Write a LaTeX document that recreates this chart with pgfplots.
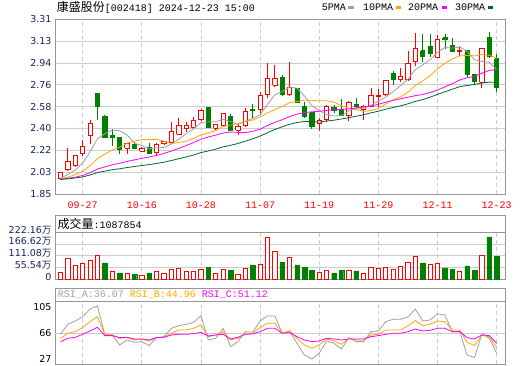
\documentclass[border=0pt]{standalone}
\usepackage{pgfplots}
\pgfplotsset{compat=1.18}
\usepackage{pgfplotstable}
\usepackage{fontspec}
\setmainfont{DejaVu Sans}
\newfontfamily\cjk{Noto Sans CJK SC}
\newfontfamily\mono{Liberation Mono}
\definecolor{kred}{RGB}{255,0,0}
\definecolor{kgreen}{RGB}{0,128,0}
\definecolor{ma5}{RGB}{160,160,160}
\definecolor{ma10}{RGB}{255,165,0}
\definecolor{ma20}{RGB}{255,0,255}
\definecolor{ma30}{RGB}{0,102,51}
\definecolor{gridc}{RGB}{204,204,204}
\definecolor{framec}{RGB}{150,150,150}
\definecolor{labc}{RGB}{25,35,90}

% up (red, hollow) candles
\pgfplotstableread{
i o h l c
0 1.982 2.037 1.970 2.032
1 2.054 2.235 2.043 2.121
2 2.085 2.177 2.079 2.169
3 2.188 2.300 2.171 2.249
4 2.341 2.469 2.272 2.442
9 2.233 2.280 2.188 2.274
11 2.208 2.244 2.199 2.227
13 2.199 2.277 2.177 2.263
14 2.269 2.294 2.260 2.286
15 2.283 2.450 2.277 2.375
16 2.352 2.486 2.339 2.422
17 2.400 2.450 2.372 2.425
18 2.405 2.492 2.394 2.469
19 2.472 2.561 2.464 2.545
21 2.400 2.428 2.389 2.428
22 2.422 2.528 2.408 2.520
24 2.383 2.444 2.339 2.419
25 2.425 2.567 2.414 2.542
27 2.556 2.706 2.528 2.670
28 2.679 2.943 2.656 2.818
29 2.757 2.929 2.743 2.818
31 2.679 2.957 2.667 2.737
35 2.436 2.489 2.380 2.467
36 2.472 2.595 2.450 2.584
39 2.506 2.631 2.461 2.617
41 2.561 2.595 2.472 2.581
42 2.584 2.734 2.573 2.673
43 2.667 2.729 2.575 2.673
44 2.679 2.796 2.673 2.796
46 2.810 2.902 2.790 2.829
47 2.804 3.049 2.796 2.943
48 2.957 3.197 2.918 3.069
51 2.991 3.183 2.991 3.144
54 3.041 3.083 3.007 3.046
57 2.784 3.069 2.737 3.069
}\upc

% down (green, filled) candles
\pgfplotstableread{
i o h l c
5 2.687 2.687 2.472 2.581
6 2.500 2.514 2.325 2.325
7 2.339 2.394 2.247 2.322
8 2.319 2.325 2.188 2.221
10 2.266 2.288 2.230 2.230
12 2.241 2.280 2.188 2.188
20 2.573 2.578 2.405 2.405
23 2.495 2.520 2.375 2.383
26 2.559 2.600 2.478 2.545
30 2.823 2.846 2.667 2.679
32 2.729 2.734 2.617 2.617
33 2.584 2.623 2.483 2.495
34 2.531 2.539 2.394 2.419
37 2.575 2.595 2.528 2.547
38 2.561 2.645 2.500 2.503
40 2.600 2.650 2.570 2.584
45 2.854 2.882 2.757 2.807
49 3.046 3.186 2.952 2.996
50 3.080 3.191 2.996 3.024
52 3.155 3.189 3.063 3.141
53 3.094 3.152 3.035 3.038
55 3.046 3.046 2.818 2.849
56 2.846 2.854 2.757 2.790
58 3.155 3.208 2.988 3.002
59 2.980 3.024 2.706 2.740
}\dnc

% moving averages
\pgfplotstableread{
i m5 m10 m20 m30
0 1.982 1.976 1.973 1.972
1 2.013 1.991 1.981 1.977
2 2.052 2.011 1.991 1.984
3 2.108 2.039 2.005 1.993
4 2.203 2.086 2.028 2.009
5 2.312 2.147 2.059 2.029
6 2.353 2.183 2.076 2.041
7 2.384 2.218 2.094 2.053
8 2.378 2.243 2.107 2.061
9 2.345 2.274 2.122 2.071
10 2.274 2.293 2.135 2.080
11 2.255 2.304 2.148 2.088
12 2.228 2.306 2.159 2.096
13 2.236 2.307 2.173 2.105
14 2.239 2.292 2.189 2.116
15 2.268 2.271 2.209 2.130
16 2.307 2.281 2.232 2.145
17 2.354 2.291 2.255 2.160
18 2.395 2.316 2.280 2.176
19 2.447 2.343 2.308 2.196
20 2.453 2.361 2.327 2.210
21 2.454 2.381 2.342 2.225
22 2.473 2.414 2.360 2.244
23 2.456 2.426 2.367 2.257
24 2.431 2.439 2.365 2.272
25 2.458 2.456 2.363 2.291
26 2.482 2.468 2.374 2.311
27 2.512 2.493 2.392 2.334
28 2.599 2.528 2.422 2.362
29 2.679 2.555 2.449 2.390
30 2.706 2.582 2.471 2.412
31 2.744 2.613 2.497 2.433
32 2.734 2.623 2.518 2.448
33 2.669 2.634 2.530 2.456
34 2.589 2.634 2.537 2.455
35 2.547 2.627 2.541 2.451
36 2.516 2.630 2.549 2.460
37 2.502 2.618 2.555 2.467
38 2.504 2.587 2.557 2.477
39 2.544 2.567 2.561 2.488
40 2.567 2.557 2.570 2.500
41 2.566 2.541 2.577 2.512
42 2.592 2.547 2.585 2.528
43 2.626 2.565 2.599 2.542
44 2.661 2.603 2.618 2.559
45 2.706 2.637 2.632 2.573
46 2.756 2.661 2.646 2.587
47 2.810 2.701 2.659 2.604
48 2.889 2.757 2.672 2.624
49 2.929 2.795 2.681 2.639
50 2.972 2.839 2.698 2.659
51 3.035 2.895 2.718 2.683
52 3.075 2.942 2.745 2.704
53 3.069 2.979 2.772 2.726
54 3.078 3.004 2.803 2.747
55 3.043 3.008 2.822 2.757
56 2.972 3.004 2.832 2.765
57 2.958 3.016 2.859 2.778
58 2.951 3.010 2.883 2.785
59 2.890 2.984 2.890 2.782
}\ma

% volume (10k shares), up days
\pgfplotstableread{
i v
0 33.3
1 98.4
2 65.1
3 74.6
4 88.9
5 112.7
7 36.5
9 28.6
11 17.5
13 36.5
14 28.6
15 46.0
16 50.8
17 34.9
18 36.5
19 46.0
21 28.6
22 46.0
24 23.8
25 52.4
27 71.4
28 198.4
29 131.7
31 103.2
35 31.7
36 41.3
39 41.3
41 27.0
42 55.5
43 50.8
44 55.5
45 46.0
46 60.3
47 79.4
48 107.9
50 69.8
51 74.6
54 38.1
57 114.2
}\volup

% volume, down days
\pgfplotstableread{
i v
6 76.2
8 28.6
10 23.8
12 28.6
20 57.1
23 42.8
26 66.7
30 80.9
32 66.7
33 57.1
34 42.8
37 28.6
38 42.8
40 38.1
49 76.2
52 52.4
53 44.4
55 61.9
56 39.7
58 200.0
59 108.79
}\voldn

% RSI
\pgfplotstableread{
i a b c
0 64.5 58.5 53.5
1 79.5 66 58.5
2 84.5 68.5 60
3 91 74.5 64.5
4 102.5 83.5 69.5
5 107 91 75
6 63.5 64.5 62.5
7 63.5 63.5 62.5
8 48.5 58.5 59.5
9 56 59.5 60
10 52.5 56 57.5
11 53.5 57 57.5
12 47.5 54.5 56
13 59.5 59.5 59.5
14 61 60 60
15 73.5 66 63.5
16 77.5 71 64.5
17 79.5 71 64.5
18 82.5 73.5 65.5
19 92.5 78.5 67.5
20 56 61 62
21 58.5 63.5 63.5
22 73.5 68.5 64.5
23 46 56 57.5
24 53.5 58.5 60
25 68.5 66 64.5
26 67.5 66 65
27 84.5 74.5 68.5
28 92 81 73.5
29 92 81 73.5
30 66 66 66
31 68.5 70 67
32 51 58.5 61
33 33.5 48.5 56
34 27.5 43.5 53.5
35 36 48.5 54.5
36 54.5 57.5 58.5
37 51 54.5 57.5
38 42.5 49.5 56
39 59.5 58.5 57.5
40 53.5 56 57.5
41 53.5 56 57.5
42 68.5 63.5 61
43 69.5 64.5 62.5
44 83.5 71 64.5
45 87 71 66
46 87 71 66
47 90.5 77 68.5
48 102.5 85 72.5
49 84.5 77.5 69.5
50 86 79.5 70.5
51 95 84.5 73.5
52 93.5 83.5 73.5
53 68.5 71 68.5
54 68.5 71 68.5
55 33.5 52.5 59.5
56 29.5 47.5 57.5
57 65 63.5 63.5
58 58.5 61 62.5
59 36.07 44.96 51.12
}\rsi

\newcommand\candles[3]{%
  \pgfplotstablegetrowsof{#1}%
  \pgfmathtruncatemacro\nrows{\pgfplotsretval-1}%
  \pgfplotsforeachungrouped \r in {0,...,\nrows}{%
    \pgfplotstablegetelem{\r}{i}\of#1\let\ci\pgfplotsretval
    \pgfplotstablegetelem{\r}{o}\of#1\let\co\pgfplotsretval
    \pgfplotstablegetelem{\r}{h}\of#1\let\ch\pgfplotsretval
    \pgfplotstablegetelem{\r}{l}\of#1\let\cl\pgfplotsretval
    \pgfplotstablegetelem{\r}{c}\of#1\let\cc\pgfplotsretval
    \pgfmathsetmacro\xa{\ci-0.29}%
    \pgfmathsetmacro\xb{\ci+0.29}%
    \edef\tmp{\noexpand\addplot[#2, line width=0.8pt, forget plot] coordinates {(\ci,\cl) (\ci,\ch)};%
      \noexpand\addplot[draw=#2, fill=#3, line width=0.8pt, forget plot] coordinates {(\xa,\co) (\xb,\co) (\xb,\cc) (\xa,\cc) (\xa,\co)};}%
    \tmp
  }%
}

\pgfplotsset{
  panel/.style={
    scale only axis, width=450.3pt,
    xmin=-0.744, xmax=60.17,
    axis line style={framec, line width=0.8pt},
    major tick length=0pt, tick style={draw=none},
    xtick={3,11,19,27,35,43,51,59},
    xmajorgrids,
    x grid style={gridc, line width=0.7pt, dash pattern=on 4pt off 3pt},
    y grid style={gridc, line width=0.8pt},
    ticklabel style={font=\fontsize{9.5pt}{9.5pt}\selectfont},
  }
}

\begin{document}
\begin{tikzpicture}
\path[use as bounding box] (0,0) rectangle (520pt,-365pt);

% ---------- price panel ----------
\begin{axis}[panel,
  at={(55pt,-19.3pt)}, anchor=north west, height=174.7pt,
  ymin=1.85, ymax=3.31,
  ytick={1.85,2.0325,2.215,2.3975,2.58,2.7625,2.945,3.1275,3.31},
  yticklabels={1.85,2.03,2.22,2.40,2.58,2.76,2.94,3.13,3.31},
  ymajorgrids,
  yticklabel style={text=labc},
  xticklabels={09-27,10-16,10-28,11-07,11-19,11-29,12-11,12-23},
  xticklabel style={text=kred, font=\mono\fontsize{10pt}{10pt}\selectfont, yshift=-4pt},
]
\candles{\upc}{kred}{white}
\candles{\dnc}{kgreen}{kgreen}
\addplot[ma5, line width=0.8pt, mark=none] table[x=i,y=m5]{\ma};
\addplot[ma10, line width=0.8pt, mark=none] table[x=i,y=m10]{\ma};
\addplot[ma20, line width=0.8pt, mark=none] table[x=i,y=m20]{\ma};
\addplot[ma30, line width=0.8pt, mark=none] table[x=i,y=m30]{\ma};
\end{axis}

% ---------- volume panel ----------
\begin{axis}[panel,
  at={(55pt,-232.3pt)}, anchor=north west, height=46.7pt,
  ymin=0, ymax=222.16,
  ytick={0,55.54,111.08,166.62,222.16},
  yticklabels={0,55.54{\cjk 万},111.08{\cjk 万},166.62{\cjk 万},222.16{\cjk 万}},
  yticklabel style={text=labc, yshift=2.3pt},
  ymajorgrids,
  xticklabels={},
]
\addplot[ybar, bar width=4.2pt, bar shift=0pt, draw=kred, fill=white, line width=0.8pt] table[x=i,y=v]{\volup};
\addplot[ybar, bar width=4.6pt, bar shift=0pt, draw=kgreen, fill=kgreen, line width=0.4pt] table[x=i,y=v]{\voldn};
\end{axis}

% ---------- RSI panel ----------
\begin{axis}[panel,
  at={(55pt,-301pt)}, anchor=north west, height=63pt,
  ymin=19.95, ymax=114.45,
  ytick={27,66,105},
  yticklabels={27,66,105},
  yticklabel style={text=black},
  extra y ticks={66}, extra y tick labels={},
  extra y tick style={ymajorgrids=true},
  xticklabels={},
]
\addplot[ma5, line width=0.8pt, mark=none] table[x=i,y=a]{\rsi};
\addplot[ma10, line width=0.8pt, mark=none] table[x=i,y=b]{\rsi};
\addplot[ma20, line width=0.8pt, mark=none] table[x=i,y=c]{\rsi};
\end{axis}

% ---------- header texts ----------
\node[anchor=west, inner sep=0pt] at (56.7pt,-7.3pt)
  {{\cjk\fontsize{12pt}{12pt}\selectfont 康盛股份}{\mono\fontsize{10pt}{10pt}\selectfont[002418] 2024-12-23 15:00}};
\begin{scope}[every node/.style={anchor=west, inner sep=0pt, font=\mono\fontsize{10pt}{10pt}\selectfont}]
\node at (321.7pt,-7pt) {5PMA};
\fill[ma5] (348pt,-5.7pt) rectangle (353.5pt,-8.5pt);
\node at (363pt,-7pt) {10PMA};
\fill[ma10] (395.5pt,-5.7pt) rectangle (401pt,-8.5pt);
\node at (408pt,-7pt) {20PMA};
\fill[ma20] (441.5pt,-5.7pt) rectangle (447pt,-8.5pt);
\node at (455pt,-7pt) {30PMA};
\fill[ma30] (487.5pt,-5.7pt) rectangle (493pt,-8.5pt);
\end{scope}

% volume label box
\draw[framec, line width=0.8pt] (55pt,-215.7pt) rectangle (505.3pt,-232.3pt);
\node[anchor=west, inner sep=0pt] at (57.3pt,-224.2pt)
  {{\cjk\fontsize{12pt}{12pt}\selectfont 成交量}{\mono\fontsize{10pt}{10pt}\selectfont:1087854}};

% RSI label box
\draw[framec, line width=0.8pt] (55pt,-288.3pt) rectangle (505.3pt,-301pt);
\node[anchor=west, inner sep=0pt, font=\mono\fontsize{10pt}{10pt}\selectfont] at (57.7pt,-294.8pt)
  {\textcolor{ma5}{RSI\_A:36.07} \textcolor{ma10}{RSI\_B:44.96} \textcolor{ma20}{RSI\_C:51.12}};
\end{tikzpicture}
\end{document}
